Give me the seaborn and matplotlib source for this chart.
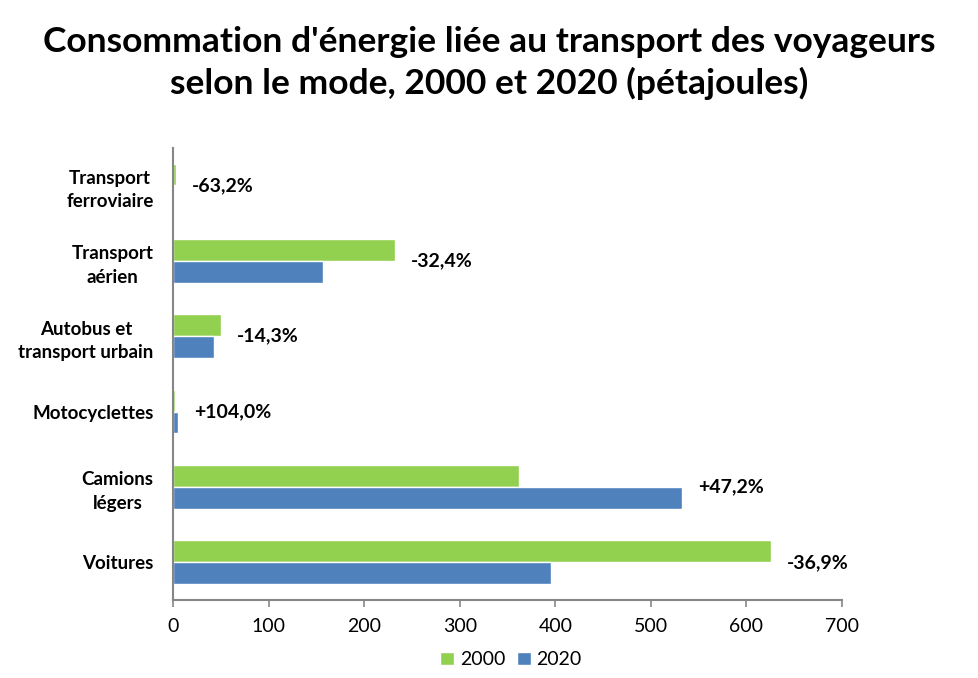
import pandas as pd
import matplotlib.pyplot as plt
import seaborn as sns

# Values (petajoules)
modes = ['Transport\nferroviaire', 'Transport\naérien', 'Autobus et\ntransport urbain',
         'Motocyclettes', 'Camions\nlégers', 'Voitures']
val_2000 = [3.0, 232, 50, 2.4, 362, 626]
val_2020 = [1.1, 157, 43, 4.9, 533, 395]
variation = ['-63,2%', '-32,4%', '-14,3%', '+104,0%', '+47,2%', '-36,9%']
years = ['2000', '2020']
colors = ['#92D050', '#4F81BD']

df = pd.DataFrame({
    'mode': modes * 2,
    'annee': ['2000'] * len(modes) + ['2020'] * len(modes),
    'pj': val_2000 + val_2020,
})

sns.set_style('white')
plt.rcParams['font.family'] = ['Lato', 'DejaVu Sans']
plt.rcParams['text.color'] = 'black'

fig = plt.figure(figsize=(9.79, 6.78), dpi=100)
ax = fig.add_axes([0.1767, 0.115, 0.6834, 0.667])

sns.barplot(data=df, y='mode', x='pj', hue='annee', order=modes, hue_order=years,
            palette=colors, orient='h', width=0.58, saturation=1, ax=ax)

# percentage change labels next to the longer bar
for i, lab in enumerate(variation):
    xmax = max(val_2000[i], val_2020[i])
    ax.annotate(lab, xy=(xmax, i), xytext=(11.5, 0), textcoords='offset points',
                ha='left', va='center', fontsize=14, fontweight='bold', color='black')

ax.set_xlim(0, 700)
ax.set_xticks(range(0, 701, 100))
ax.set_xlabel('')
ax.set_ylabel('')
sns.despine(ax=ax, top=True, right=True)
for sp in ['left', 'bottom']:
    ax.spines[sp].set_color('#868686')
    ax.spines[sp].set_linewidth(1.5)
ax.tick_params(axis='x', direction='out', length=5, width=1.2, color='#868686',
               labelcolor='black', labelsize=14, pad=8, bottom=True)
ax.tick_params(axis='y', length=0, pad=14, labelsize=13.5, labelcolor='black')
for t in ax.get_yticklabels():
    t.set_fontweight('bold')
    t.set_multialignment('center')
    t.set_linespacing(1.45)

handles, labels = ax.get_legend_handles_labels()
ax.legend(handles, labels, loc='center', bbox_to_anchor=(0.522, 0.027),
          bbox_transform=fig.transFigure, ncol=2, frameon=False, fontsize=14,
          handlelength=0.7, handleheight=0.7, handletextpad=0.3, columnspacing=0.6)

fig.suptitle("Consommation d'énergie liée au transport des voyageurs\nselon le mode, 2000 et 2020 (pétajoules)",
             x=0.5, y=0.962, fontsize=25.5, fontweight='bold', linespacing=1.32,
             color='black')

plt.savefig('out.png', dpi=100)
plt.close()
